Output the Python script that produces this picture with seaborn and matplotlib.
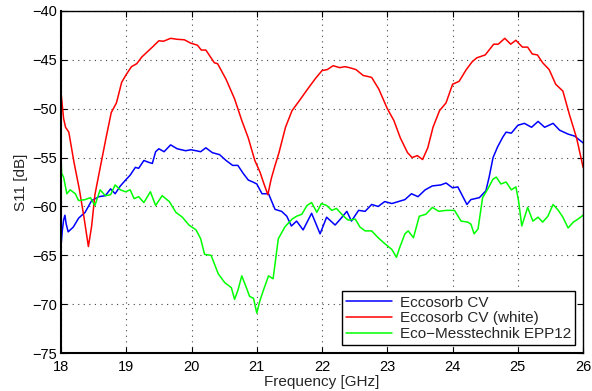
import matplotlib
matplotlib.use("Agg")
import matplotlib.pyplot as plt
import seaborn as sns
import pandas as pd

# Measured reflection S11 [dB] versus frequency [GHz] for three absorber materials
series_names = ["Eccosorb CV", "Eccosorb CV (white)", "Eco\u2212Messtechnik EPP12"]
series_colors = ["#0000ff", "#ff0000", "#00ff00"]

cv_freq = [18.00, 18.02, 18.04, 18.06, 18.08, 18.11, 18.19, 18.27, 18.37, 18.47,
           18.58, 18.68, 18.76, 18.83, 18.91, 18.99, 19.06, 19.14, 19.19, 19.27,
           19.35, 19.40, 19.45, 19.50, 19.58, 19.68, 19.78, 19.91, 19.99, 20.07,
           20.14, 20.22, 20.32, 20.43, 20.53, 20.63, 20.71, 20.79, 20.87, 20.94,
           21.00, 21.08, 21.18, 21.28, 21.38, 21.46, 21.53, 21.61, 21.71, 21.84,
           21.97, 22.07, 22.20, 22.28, 22.38, 22.45, 22.56, 22.66, 22.76, 22.86,
           22.96, 23.07, 23.17, 23.27, 23.37, 23.47, 23.58, 23.69, 23.82, 23.90,
           24.00, 24.08, 24.15, 24.22, 24.28, 24.41, 24.51, 24.56, 24.62, 24.69,
           24.77, 24.82, 24.90, 25.00, 25.10, 25.21, 25.31, 25.41, 25.54, 25.64,
           25.77, 25.87, 26.00]
cv_s11 = [-64.1, -62.5, -61.4, -60.9, -61.8, -62.6, -62.1, -61.2, -60.6, -59.4,
          -59.0, -58.9, -58.2, -58.7, -57.9, -57.3, -56.8, -56.0, -56.1, -55.3,
          -55.5, -55.6, -54.4, -54.1, -54.4, -53.7, -54.1, -54.3, -54.2, -54.3,
          -54.4, -54.0, -54.5, -54.7, -55.3, -55.8, -55.8, -56.6, -57.3, -57.5,
          -57.7, -58.7, -58.7, -60.3, -60.5, -61.0, -62.0, -61.5, -62.4, -60.7,
          -62.8, -61.1, -61.9, -61.3, -60.5, -61.5, -60.4, -60.5, -59.8, -60.0,
          -59.5, -59.7, -59.5, -59.3, -58.7, -59.0, -58.3, -57.9, -57.8, -57.6,
          -58.1, -58.0, -58.9, -59.8, -59.3, -59.1, -58.4, -57.0, -55.0, -53.9,
          -52.9, -52.4, -52.5, -51.7, -51.5, -51.9, -51.3, -51.9, -51.5, -52.2,
          -52.6, -52.8, -53.5]

white_freq = [18.00, 18.04, 18.07, 18.12, 18.20, 18.28, 18.35, 18.42, 18.47, 18.52,
              18.59, 18.69, 18.77, 18.85, 18.93, 19.00, 19.08, 19.16, 19.24, 19.32,
              19.40, 19.50, 19.57, 19.68, 19.78, 19.89, 19.99, 20.09, 20.15, 20.22,
              20.30, 20.35, 20.40, 20.53, 20.66, 20.77, 20.87, 20.97, 21.05, 21.10,
              21.17, 21.22, 21.28, 21.34, 21.44, 21.54, 21.65, 21.80, 21.90, 22.00,
              22.08, 22.17, 22.27, 22.35, 22.42, 22.52, 22.63, 22.70, 22.76, 22.87,
              23.00, 23.10, 23.20, 23.31, 23.38, 23.46, 23.54, 23.62, 23.70, 23.80,
              23.90, 24.00, 24.10, 24.21, 24.30, 24.37, 24.50, 24.63, 24.70, 24.80,
              24.89, 24.97, 25.07, 25.15, 25.22, 25.30, 25.38, 25.48, 25.58, 25.69,
              25.79, 25.90, 26.00]
white_s11 = [-48.3, -51.0, -51.9, -52.4, -55.5, -58.2, -61.0, -64.1, -62.0, -58.8,
             -56.4, -53.0, -50.4, -49.4, -47.3, -46.5, -45.7, -45.4, -44.7, -44.2,
             -43.7, -43.05, -43.1, -42.8, -42.9, -42.95, -43.3, -43.5, -44.0, -44.0,
             -44.8, -45.3, -45.4, -47.0, -49.0, -51.2, -53.0, -55.3, -56.5, -57.5,
             -58.8, -57.2, -55.8, -54.5, -51.9, -50.2, -49.2, -47.8, -46.9, -46.1,
             -46.0, -45.6, -45.8, -45.7, -45.8, -46.0, -46.6, -46.7, -46.8, -48.0,
             -50.0, -51.2, -53.0, -54.5, -55.0, -54.8, -55.2, -54.0, -51.9, -50.2,
             -49.4, -47.5, -47.2, -46.0, -45.2, -44.8, -44.5, -43.4, -43.4, -42.8,
             -43.4, -43.0, -43.7, -43.7, -44.4, -44.5, -45.3, -46.0, -47.5, -48.2,
             -50.6, -53.0, -56.0]

epp_freq = [18.00, 18.01, 18.04, 18.09, 18.14, 18.22, 18.27, 18.37, 18.45, 18.52,
            18.60, 18.68, 18.76, 18.83, 18.91, 18.99, 19.06, 19.12, 19.19, 19.27,
            19.37, 19.45, 19.55, 19.66, 19.76, 19.86, 19.96, 20.07, 20.14, 20.20,
            20.30, 20.41, 20.51, 20.61, 20.66, 20.71, 20.77, 20.84, 20.89, 20.95,
            21.00, 21.05, 21.10, 21.18, 21.25, 21.33, 21.43, 21.54, 21.61, 21.69,
            21.77, 21.84, 21.92, 21.99, 22.07, 22.15, 22.22, 22.33, 22.40, 22.51,
            22.58, 22.66, 22.76, 22.86, 22.96, 23.07, 23.14, 23.19, 23.27, 23.32,
            23.40, 23.49, 23.59, 23.69, 23.79, 23.90, 24.03, 24.13, 24.23, 24.28,
            24.33, 24.39, 24.46, 24.54, 24.62, 24.67, 24.74, 24.82, 24.90, 24.97,
            25.01, 25.06, 25.15, 25.23, 25.31, 25.38, 25.46, 25.54, 25.62, 25.69,
            25.77, 25.85, 25.92, 26.00]
epp_s11 = [-54.8, -56.6, -57.0, -58.7, -58.3, -58.7, -59.4, -59.3, -59.1, -59.9,
           -58.3, -58.9, -58.8, -57.8, -58.3, -58.5, -58.3, -59.2, -59.0, -59.6,
           -58.5, -59.9, -58.9, -59.5, -60.6, -61.1, -61.9, -62.4, -63.3, -64.9,
           -65.0, -66.9, -67.8, -68.3, -69.5, -68.6, -67.1, -68.3, -69.2, -69.4,
           -70.9, -69.6, -68.6, -67.1, -67.4, -63.3, -62.1, -61.3, -61.0, -60.8,
           -59.9, -59.6, -60.6, -59.7, -59.9, -60.4, -60.2, -61.0, -61.4, -61.3,
           -62.1, -62.5, -62.5, -63.2, -63.8, -64.4, -65.2, -64.2, -62.8, -62.5,
           -63.2, -61.0, -60.8, -60.1, -60.5, -60.4, -60.4, -61.5, -61.6, -61.8,
           -62.8, -62.3, -59.1, -58.2, -57.2, -57.0, -57.7, -57.5, -58.3, -58.0,
           -59.4, -62.0, -60.1, -61.5, -61.1, -61.6, -61.0, -59.8, -60.4, -61.1,
           -62.2, -61.6, -61.3, -60.9]

x_ticks = [18, 19, 20, 21, 22, 23, 24, 25, 26]
y_ticks = [-75, -70, -65, -60, -55, -50, -45, -40]

frames = []
for name, f, v in [(series_names[0], cv_freq, cv_s11),
                   (series_names[1], white_freq, white_s11),
                   (series_names[2], epp_freq, epp_s11)]:
    frames.append(pd.DataFrame({"Frequency [GHz]": f, "S11 [dB]": v, "Material": name}))
df = pd.concat(frames, ignore_index=True)

sns.set_style("ticks")
plt.rcParams["font.family"] = ["Liberation Sans", "DejaVu Sans"]
plt.rcParams["font.size"] = 10.5

fig = plt.figure(figsize=(5.92, 3.91), dpi=100)
ax = fig.add_axes([0.103, 0.097, 0.882, 0.875])

sns.lineplot(data=df, x="Frequency [GHz]", y="S11 [dB]", hue="Material",
             hue_order=series_names, palette=series_colors, estimator=None,
             sort=True, linewidth=1.1, ax=ax)

ax.set_xlim(18, 26)
ax.set_ylim(-75, -40)
ax.set_xticks(x_ticks)
ax.set_yticks(y_ticks)
ax.set_xticklabels([str(t) for t in x_ticks], fontsize=10.5)
ax.set_yticklabels([f"\u2212{abs(t)}" for t in y_ticks], fontsize=10.5)
ax.set_xlabel("Frequency [GHz]", fontsize=11, labelpad=0.5)
ax.set_ylabel("S11 [dB]", fontsize=11, labelpad=3)

ax.grid(True, color="#444444", linestyle=(0, (1, 4)), linewidth=0.8)
ax.tick_params(direction="in", length=4, width=0.8, top=True, right=True,
               colors="black")
ax.tick_params(axis="x", pad=5)
ax.tick_params(axis="y", pad=3)
for side, spine in ax.spines.items():
    spine.set_visible(True)
    spine.set_color("black")
    spine.set_linewidth(1.5 if side in ("left", "bottom") else 1.0)

leg = ax.legend(loc="lower right", fontsize=11, frameon=True, fancybox=False,
                handlelength=3.0, borderpad=0.3, labelspacing=0.1,
                handletextpad=0.5, borderaxespad=0.5)
leg.get_frame().set_edgecolor("black")
leg.get_frame().set_linewidth(1.0)
leg.get_frame().set_alpha(1.0)
leg.set_title(None)

fig.savefig("out.png", dpi=100)
